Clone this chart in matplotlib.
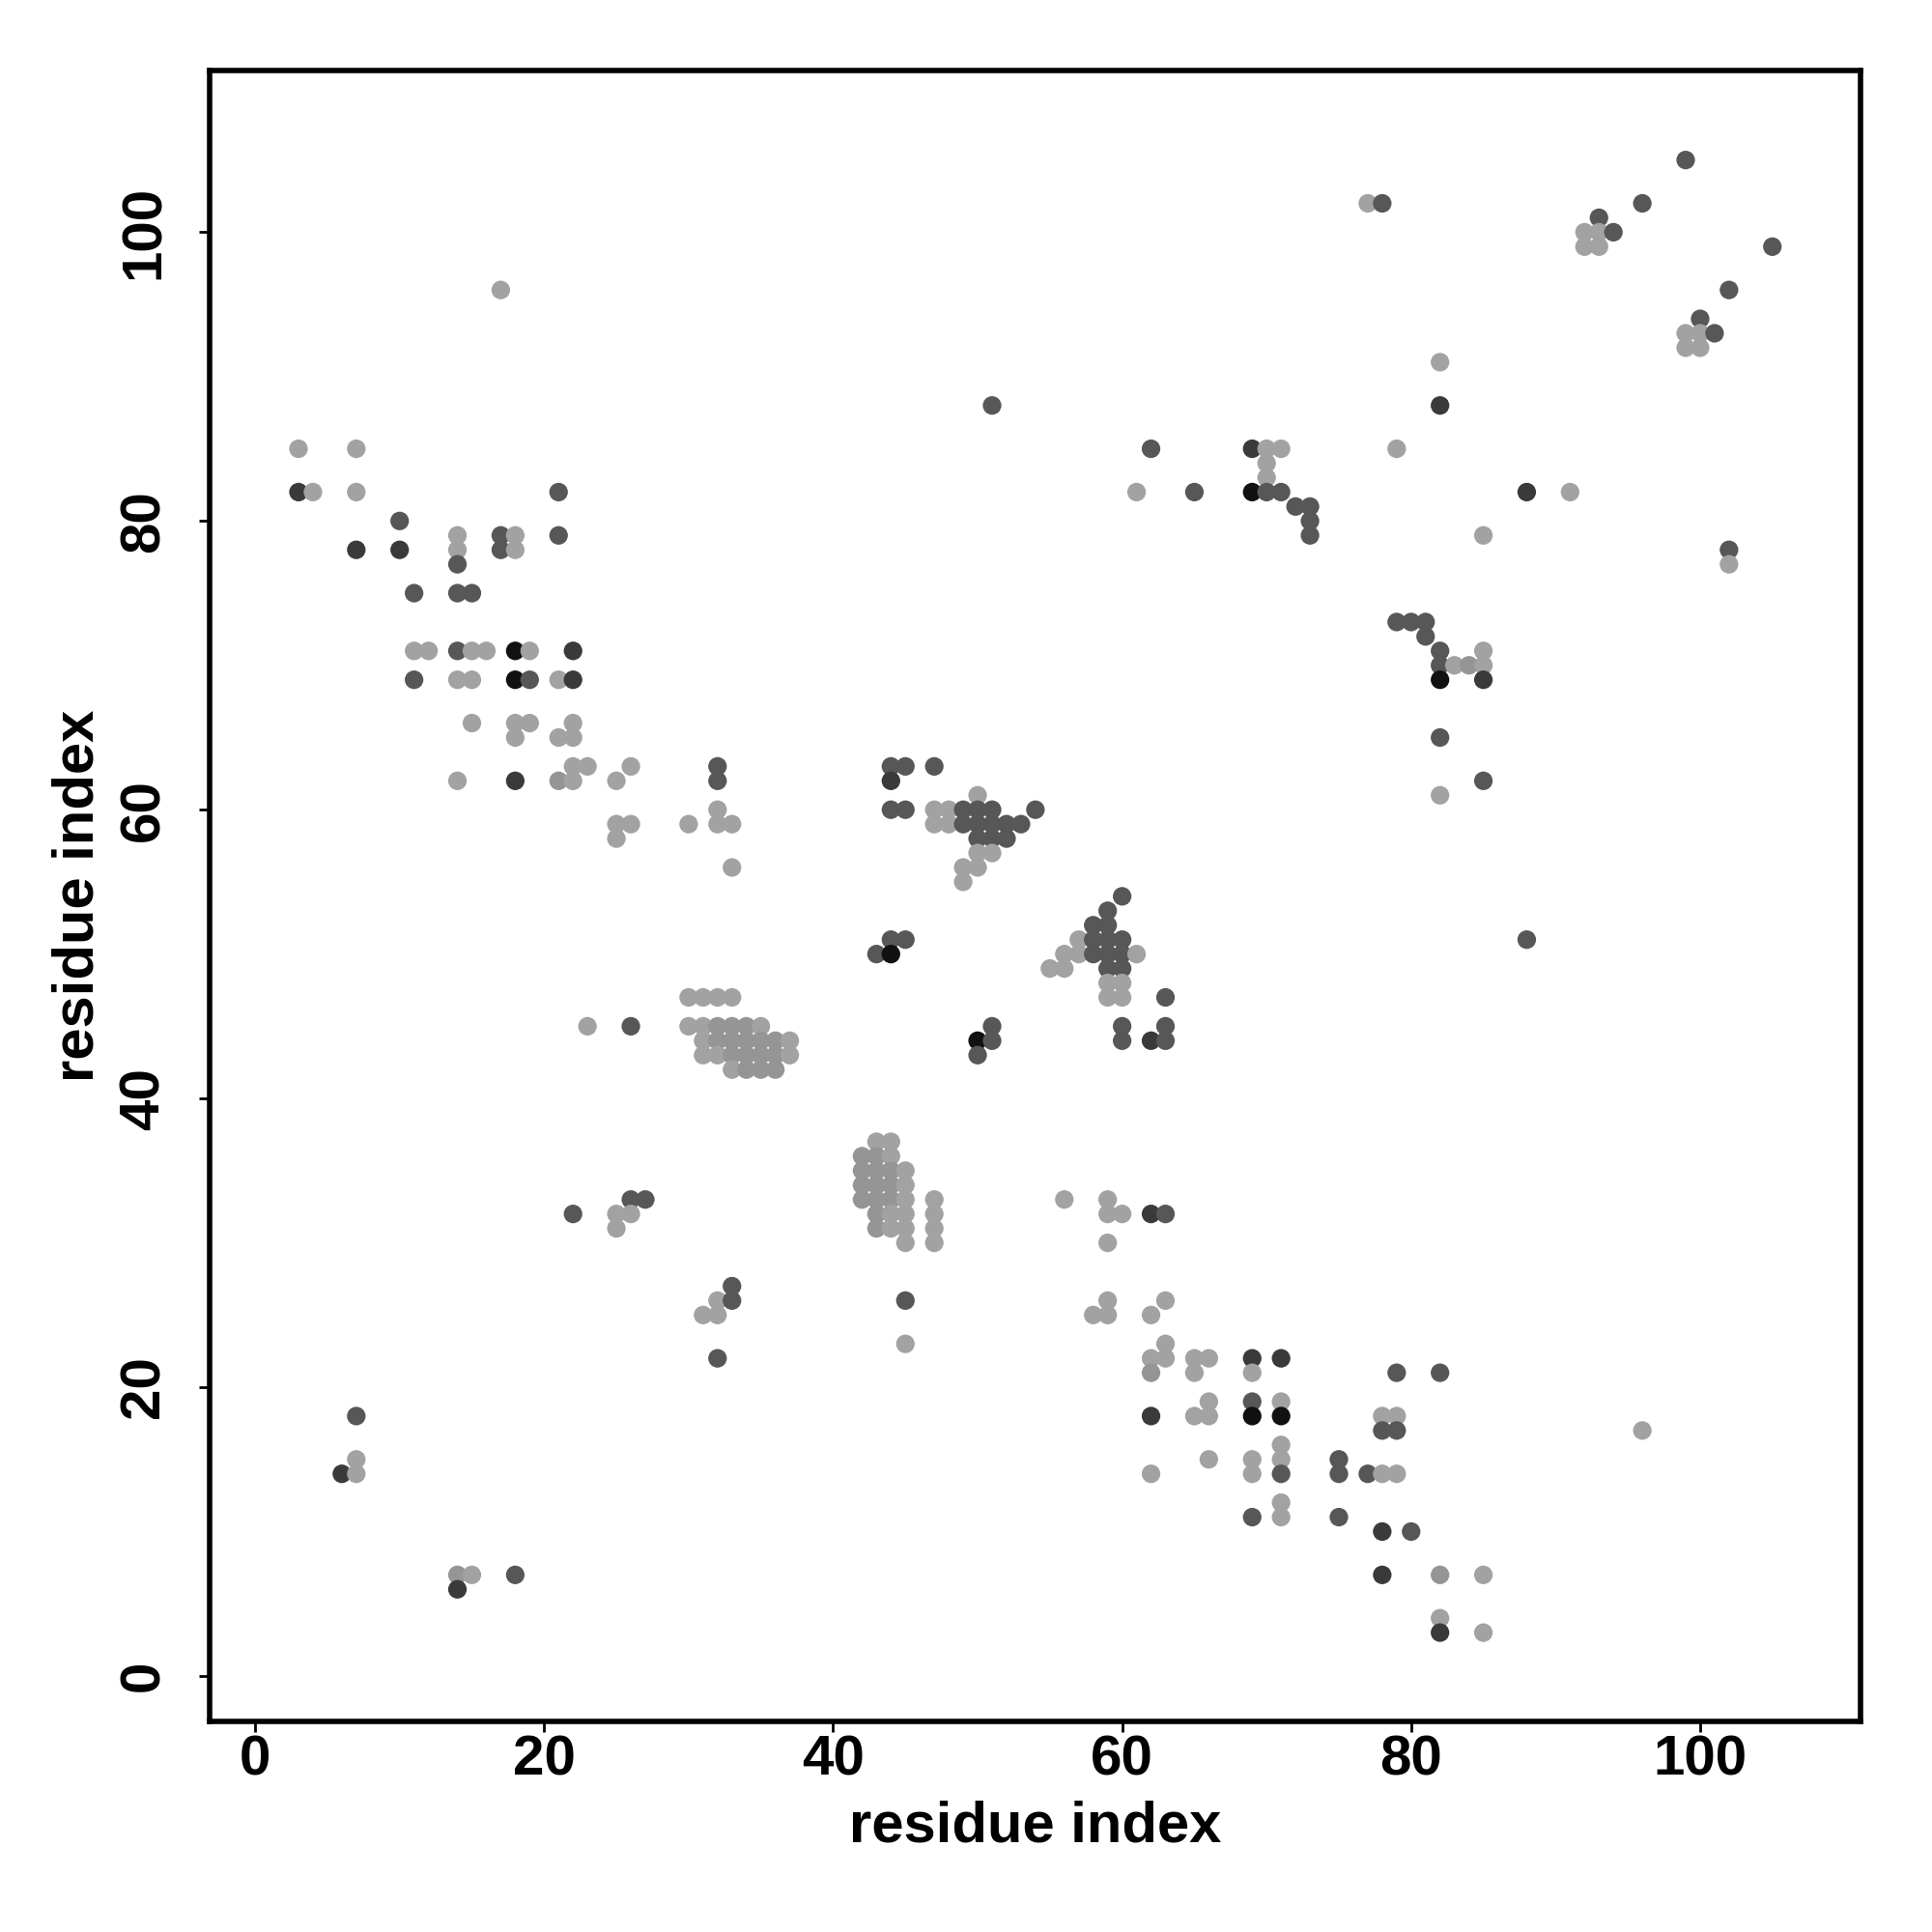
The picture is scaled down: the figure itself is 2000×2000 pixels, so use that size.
import matplotlib
matplotlib.use("Agg")
import matplotlib.pyplot as plt

plt.rcParams['font.family'] = ['Liberation Sans', 'DejaVu Sans']
plt.rcParams['font.weight'] = 'bold'

# ---- data: contacts (residue i, residue j) grouped by gray shade ----
light_x = [17, 3, 7, 4, 7, 14, 18, 14, 18, 11, 12, 15, 16, 19, 14, 15, 21, 15, 18, 19, 22, 18, 21, 22,
           22, 23, 26, 14, 22, 25, 25, 26, 30, 32, 32, 33, 25, 33,
           77, 92, 93, 92, 93, 99, 100, 99, 100, 82, 79, 70, 71, 70, 70, 61, 91, 85, 102, 85, 83, 85, 82,
           47, 48, 47, 48, 50, 50, 51, 49, 50, 49,
           57, 56, 57, 61, 55, 56, 59, 60, 59, 60,
           30, 31, 32, 33, 23,
           30, 31, 35, 31, 37, 31, 32, 37, 33,
           25, 26, 25,
           43, 44, 44, 45, 45, 45, 47, 44, 45, 47, 44, 45, 47, 45, 47,
           56, 59, 59, 60, 59,
           32, 31, 32, 7, 7, 15,
           45, 59, 58, 59, 63, 62, 63, 62, 63, 65, 66, 65, 69, 66, 65, 66, 71, 66, 62, 69, 69, 71, 71, 71, 71,
           78, 79, 96, 78, 79, 85, 82, 85]
light_y = [96, 85, 85, 82, 82, 79, 79, 78, 78, 71, 71, 71, 71, 71, 69, 69, 69, 66, 66, 66, 66, 65, 65, 65,
           63, 63, 63, 62, 62, 62, 59, 59, 59, 60, 59, 59, 58, 56,
           102, 100, 100, 99, 99, 93, 93, 92, 92, 91, 85, 85, 85, 84, 83, 82, 82, 79, 77, 71, 70, 70, 61,
           60, 60, 59, 59, 61, 57, 57, 56, 56, 55,
           51, 50, 50, 50, 49, 49, 48, 48, 47, 47,
           47, 47, 47, 47, 45,
           45, 45, 45, 44, 44, 43, 43, 43, 42,
           32, 32, 31,
           37, 37, 36, 35, 34, 33, 33, 32, 32, 32, 31, 31, 31, 30, 30,
           33, 33, 32, 32, 30,
           26, 25, 25, 15, 14, 7,
           23, 26, 25, 25, 26, 25, 23, 22, 22, 22, 22, 21, 21, 19, 18, 18, 19, 15, 14, 15, 14, 16, 15, 12, 11,
           18, 18, 17, 14, 14, 7, 4, 3]

medium_x = [21, 14, 62, 84, 82,
            32, 33, 34, 32, 33, 34, 35, 36, 33, 34, 35, 36, 34, 35, 36,
            42, 43, 42, 43, 42, 43, 42, 43, 43, 43, 44, 44, 44]
medium_y = [62, 7, 21, 70, 7,
            45, 45, 45, 44, 44, 44, 44, 44, 43, 43, 43, 43, 42, 42, 42,
            36, 36, 35, 35, 34, 34, 33, 33, 32, 31, 35, 34, 33]

dark_x = [51, 62, 65, 70, 71, 72, 73, 73, 73, 21, 10, 17, 21, 17, 14, 11, 14, 15, 14, 11, 19, 32, 32,
          99, 78, 96, 93, 94, 105, 102, 100, 101, 102, 79, 80, 81, 81, 82, 82, 82, 85, 88,
          44, 45, 47, 44, 45, 49, 50, 51, 54, 49, 50, 51, 52, 53, 50, 51, 52,
          60, 59, 58, 59, 58, 59, 60, 58, 59, 60, 59, 60, 63,
          44, 45, 43, 51, 51, 50, 60, 60, 63, 63, 63,
          26, 22, 26, 27, 33, 33, 32, 7, 18,
          45, 69, 71, 69, 79, 82, 78, 79, 75, 75, 77, 75, 80]
dark_y = [88, 85, 82, 82, 82, 81, 81, 80, 79, 82, 80, 79, 79, 78, 77, 75, 75, 75, 71, 69, 69, 63, 62,
          105, 102, 102, 101, 100, 99, 96, 94, 93, 78, 73, 73, 73, 72, 71, 70, 65, 62, 51,
          63, 63, 63, 60, 60, 60, 60, 60, 60, 59, 59, 59, 59, 59, 58, 58, 58,
          54, 53, 52, 52, 51, 51, 51, 50, 50, 50, 49, 49, 47,
          51, 51, 50, 45, 44, 43, 45, 44, 45, 44, 32,
          45, 32, 33, 33, 27, 26, 22, 18, 7,
          26, 19, 14, 11, 21, 21, 17, 17, 15, 14, 14, 11, 10]

darker_x = [3, 7, 10, 22, 22, 18, 69, 88, 82, 44, 85, 62, 62, 6, 14, 62, 69, 71, 78, 78, 82]
darker_y = [82, 78, 78, 71, 69, 62, 85, 82, 88, 62, 69, 44, 32, 14, 6, 18, 22, 22, 10, 7, 3]

black_x = [18, 18, 69, 82, 44, 50, 69, 71]
black_y = [71, 69, 82, 69, 50, 44, 18, 18]

shade_colors = {"light": "#a2a2a2", "medium": "#959595", "dark": "#575757",
                "darker": "#3a3a3a", "black": "#111111"}

pts = []
for name, xs, ys in [("light", light_x, light_y), ("medium", medium_x, medium_y),
                     ("dark", dark_x, dark_y), ("darker", darker_x, darker_y),
                     ("black", black_x, black_y)]:
    for x, y in zip(xs, ys):
        pts.append((x, y, shade_colors[name]))
pts.sort(key=lambda p: (p[0], -p[1]))

fig = plt.figure(figsize=(10, 10), dpi=200)
ax = fig.add_axes([0.1085, 0.109, 0.8545, 0.8545])
ax.scatter([p[0] for p in pts], [p[1] for p in pts], c=[p[2] for p in pts],
           s=48, linewidths=0, zorder=3)

ax.set_xlim(-3.15, 111.1)
ax.set_ylim(-3.15, 111.2)
ax.set_xticks([0, 20, 40, 60, 80, 100])
ax.set_yticks([0, 20, 40, 60, 80, 100])
for s in ax.spines.values():
    s.set_linewidth(2.0)
ax.tick_params(axis='both', which='major', length=4, width=1.0, labelsize=21)
ax.tick_params(axis='x', pad=1.0)
ax.tick_params(axis='y', pad=10.5)
for lab in ax.get_yticklabels():
    lab.set_rotation(90)
    lab.set_va('center')
for lab in ax.get_xticklabels() + ax.get_yticklabels():
    lab.set_fontweight('bold')
ax.set_xlabel("residue index", fontsize=21.5, fontweight='bold', labelpad=5)
ax.set_ylabel("residue index", fontsize=21.5, fontweight='bold', labelpad=5)

fig.savefig("out.png", dpi=200)
